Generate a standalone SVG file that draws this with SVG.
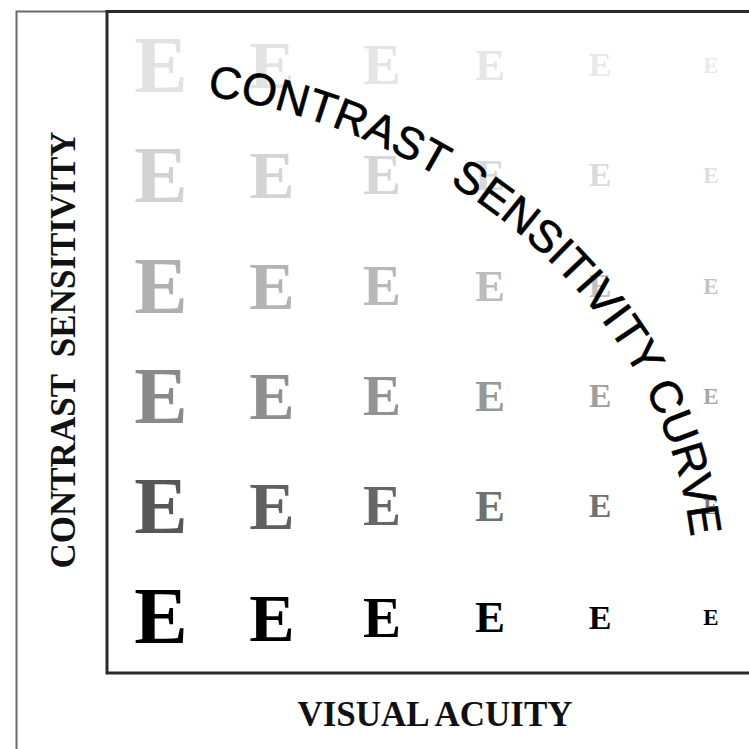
<svg xmlns="http://www.w3.org/2000/svg" width="749" height="749" viewBox="0 0 749 749">
  <style>
    .e { font-family: "Liberation Serif", "Times New Roman", serif; font-weight: bold; text-anchor: middle; }
    .r1 { fill: #e2e2e2; }
    .r2 { fill: #d2d2d2; }
    .r3 { fill: #b0b0b0; }
    .r4 { fill: #8a8a8a; }
    .r5 { fill: #575757; }
    .r6 { fill: #000000; }
    .axis { font-family: "Liberation Serif", "Times New Roman", serif; font-weight: bold; font-size: 35px; fill: #111; text-anchor: middle; white-space: pre; }
    .curve { font-family: "Liberation Sans", Arial, sans-serif; font-size: 45px; fill: #000; stroke: #000; stroke-width: 0.6; }
    .frame { fill: none; stroke: #6a6a6a; stroke-width: 2; }
    .box { fill: none; stroke: #2a2a2a; stroke-width: 3; }
  </style>
  <defs>
    <path id="arc" d="M207,96 C448,128 694,318 694,590"/>
  </defs>
  <rect width="749" height="749" fill="#ffffff"/>

  <g id="frame">
    <path class="frame" d="M16.5,760 V11.5 H107"/>
    <path class="box" d="M760,11.5 H107 V673 H760"/>
  </g>

  <g id="chart">
    <g id="row1" class="r1">
      <text class="e" x="161" y="92" font-size="80">E</text>
      <text class="e" x="272" y="88" font-size="68" fill-opacity="0.95">E</text>
      <text class="e" x="382" y="84" font-size="57" fill-opacity="0.9">E</text>
      <text class="e" x="490" y="80" font-size="45" fill-opacity="0.85">E</text>
      <text class="e" x="600" y="76" font-size="34" fill-opacity="0.8">E</text>
      <text class="e" x="711" y="73" font-size="23" fill-opacity="0.75">E</text>
    </g>
    <g id="row2" class="r2">
      <text class="e" x="161" y="202" font-size="80">E</text>
      <text class="e" x="272" y="198" font-size="68" fill-opacity="0.95">E</text>
      <text class="e" x="382" y="194" font-size="57" fill-opacity="0.9">E</text>
      <text class="e" x="490" y="190" font-size="45" fill-opacity="0.85">E</text>
      <text class="e" x="600" y="186" font-size="34" fill-opacity="0.8">E</text>
      <text class="e" x="711" y="183" font-size="23" fill-opacity="0.75">E</text>
    </g>
    <g id="row3" class="r3">
      <text class="e" x="161" y="313" font-size="80">E</text>
      <text class="e" x="272" y="309" font-size="68" fill-opacity="0.95">E</text>
      <text class="e" x="382" y="305" font-size="57" fill-opacity="0.9">E</text>
      <text class="e" x="490" y="301" font-size="45" fill-opacity="0.85">E</text>
      <text class="e" x="600" y="297" font-size="34" fill-opacity="0.8">E</text>
      <text class="e" x="711" y="294" font-size="23" fill-opacity="0.75">E</text>
    </g>
    <g id="row4" class="r4">
      <text class="e" x="161" y="423" font-size="80">E</text>
      <text class="e" x="272" y="419" font-size="68" fill-opacity="0.95">E</text>
      <text class="e" x="382" y="415" font-size="57" fill-opacity="0.92">E</text>
      <text class="e" x="490" y="411" font-size="45" fill-opacity="0.88">E</text>
      <text class="e" x="600" y="407" font-size="34" fill-opacity="0.82">E</text>
      <text class="e" x="711" y="404" font-size="23" fill-opacity="0.75">E</text>
    </g>
    <g id="row5" class="r5">
      <text class="e" x="161" y="533" font-size="80">E</text>
      <text class="e" x="272" y="529" font-size="68" fill-opacity="0.95">E</text>
      <text class="e" x="382" y="525" font-size="57" fill-opacity="0.9">E</text>
      <text class="e" x="490" y="521" font-size="45" fill-opacity="0.85">E</text>
      <text class="e" x="600" y="517" font-size="34" fill-opacity="0.85">E</text>
      <text class="e" x="711" y="514" font-size="23" fill-opacity="0.8">E</text>
    </g>
    <g id="row6" class="r6">
      <text class="e" x="161" y="643" font-size="80">E</text>
      <text class="e" x="272" y="641" font-size="68">E</text>
      <text class="e" x="382" y="637" font-size="57">E</text>
      <text class="e" x="490" y="632" font-size="45">E</text>
      <text class="e" x="600" y="629" font-size="34">E</text>
      <text class="e" x="711" y="625" font-size="23">E</text>
    </g>
  </g>

  <g id="curve-label">
    <text class="curve"><textPath href="#arc">CONTRAST SENSITIVITY CURVE</textPath></text>
  </g>

  <g id="y-axis-label">
    <text class="axis" transform="translate(75,350) rotate(-90)" x="0" y="0">CONTRAST  SENSITIVITY</text>
  </g>
  <g id="x-axis-label">
    <text class="axis" x="435" y="726">VISUAL ACUITY</text>
  </g>
</svg>
